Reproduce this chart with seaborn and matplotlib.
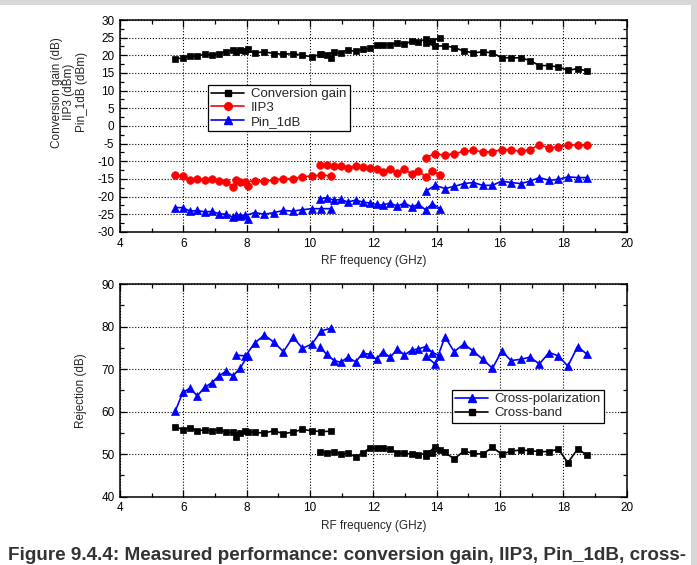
import matplotlib
matplotlib.use('Agg')
import matplotlib.pyplot as plt
from matplotlib.lines import Line2D
from matplotlib.patches import Rectangle
from matplotlib.ticker import MultipleLocator
import seaborn as sns
import pandas as pd

# four overlapping frequency sweeps (GHz)
freq_a = [5.75, 5.98, 6.21, 6.44, 6.67, 6.90, 7.12, 7.35, 7.57, 7.80, 8.03]
freq_b = [7.65, 7.96, 8.26, 8.56, 8.86, 9.16, 9.46, 9.76, 10.06, 10.36, 10.66]
freq_c = [10.30, 10.52, 10.76, 10.97, 11.19, 11.44, 11.66, 11.88, 12.10, 12.29,
          12.53, 12.76, 12.98, 13.21, 13.42, 13.65, 13.86, 14.11]
freq_d = [13.65, 13.95, 14.26, 14.55, 14.86, 15.16, 15.45, 15.76, 16.05, 16.35,
          16.65, 16.95, 17.24, 17.55, 17.84, 18.14, 18.45, 18.74]

# conversion gain (dB)
gain_a = [18.9, 19.3, 19.8, 19.8, 20.3, 20.1, 20.5, 21.0, 21.5, 21.5, 21.7]
gain_b = [21.0, 21.3, 20.7, 21.0, 20.5, 20.3, 20.5, 20.0, 19.6, 20.3, 19.3]
gain_c = [20.5, 20.2, 20.9, 20.7, 21.5, 21.1, 21.7, 22.0, 22.8, 23.0,
          23.0, 23.5, 23.2, 24.0, 23.8, 24.6, 24.0, 25.0]
gain_d = [23.5, 22.6, 22.7, 22.2, 21.2, 20.7, 21.0, 20.7, 19.3, 19.3,
          19.3, 18.5, 17.1, 17.1, 16.7, 15.8, 16.2, 15.6]

# IIP3 (dBm)
iip3_a = [-13.9, -14.1, -15.2, -15.0, -15.2, -15.0, -15.5, -15.9, -17.2, -15.9, -17.0]
iip3_b = [-15.3, -15.8, -15.5, -15.7, -15.2, -14.9, -14.9, -14.4, -14.1, -13.9, -14.1]
iip3_c = [-11.1, -11.1, -11.3, -11.3, -11.9, -11.3, -11.6, -11.9, -12.1, -13.0,
          -12.3, -13.2, -12.3, -13.5, -12.8, -14.3, -12.8, -13.8]
iip3_d = [-9.0, -7.8, -8.3, -7.8, -7.2, -6.9, -7.3, -7.3, -6.7, -6.7,
          -7.2, -6.7, -5.3, -6.2, -5.9, -5.3, -5.4, -5.4]

# Pin_1dB (dBm)
p1db_a = [-23.1, -23.1, -24.1, -23.9, -24.3, -24.2, -24.8, -25.0, -25.8, -25.6, -26.2]
p1db_b = [-25.3, -25.3, -24.5, -25.0, -24.5, -23.9, -24.1, -23.7, -23.4, -23.4, -23.4]
p1db_c = [-20.6, -20.3, -21.0, -20.8, -21.5, -21.0, -21.5, -21.8, -22.2, -22.4,
          -21.8, -22.7, -21.8, -22.9, -22.2, -23.7, -22.0, -23.4]
p1db_d = [-18.5, -16.8, -17.7, -17.1, -16.3, -16.0, -16.8, -16.8, -15.6, -16.0,
          -16.3, -15.6, -14.6, -15.4, -15.1, -14.4, -14.6, -14.6]

# cross-polarization rejection (dB)
xpol_a = [60.2, 64.5, 65.5, 63.7, 65.7, 66.8, 68.4, 69.5, 68.4, 70.3, 73.1]
xpol_b = [73.3, 73.1, 76.2, 78.0, 76.3, 74.1, 77.5, 74.9, 75.9, 79.0, 79.6]
xpol_c = [75.3, 73.5, 72.0, 71.6, 72.8, 71.7, 73.7, 73.5, 72.3, 74.1,
          72.8, 74.7, 73.3, 74.5, 74.7, 75.3, 73.9, 73.1]
xpol_d = [73.1, 71.2, 77.6, 74.1, 75.9, 74.2, 72.3, 70.2, 74.2, 72.0,
          72.3, 72.8, 71.2, 73.9, 73.1, 70.7, 75.3, 73.5]

# cross-band rejection (dB)
xband_a = [56.5, 55.7, 56.2, 55.5, 55.7, 55.5, 55.7, 55.2, 55.1, 54.9, 55.1]
xband_b = [54.1, 55.4, 55.1, 55.0, 55.5, 54.8, 55.2, 55.8, 55.5, 55.3, 55.4]
xband_c = [50.6, 50.3, 50.5, 50.0, 50.2, 49.4, 50.3, 51.4, 51.4, 51.4,
           51.2, 50.3, 50.2, 50.0, 49.8, 50.2, 50.2, 51.0]
xband_d = [49.6, 51.8, 50.4, 48.9, 50.7, 50.2, 50.0, 51.6, 50.0, 50.7,
           51.0, 50.8, 50.6, 50.6, 51.2, 48.0, 51.2, 49.8]

freqs = [freq_a, freq_b, freq_c, freq_d]

top_series = {
    'Conversion gain': [gain_a, gain_b, gain_c, gain_d],
    'IIP3': [iip3_a, iip3_b, iip3_c, iip3_d],
    'Pin_1dB': [p1db_a, p1db_b, p1db_c, p1db_d],
}
bottom_series = {
    'Cross-polarization': [xpol_a, xpol_b, xpol_c, xpol_d],
    'Cross-band': [xband_a, xband_b, xband_c, xband_d],
}

styles = {
    'Conversion gain': ('black', 's', 5.0),
    'IIP3': ('#ff0000', 'o', 5.5),
    'Pin_1dB': ('#0000ff', '^', 6.0),
    'Cross-polarization': ('#0000ff', '^', 6.0),
    'Cross-band': ('black', 's', 5.0),
}


def build_frame(series):
    rows = []
    for name, runs in series.items():
        for run, (f, v) in zip('ABCD', zip(freqs, runs)):
            for x, y in zip(f, v):
                rows.append({'series': name, 'run': run, 'freq': x, 'value': y})
    return pd.DataFrame(rows)


def draw_series(ax, df):
    for name in df.series.unique():
        col, mk, ms = styles[name]
        sub = df[df.series == name]
        sns.lineplot(data=sub, x='freq', y='value', units='run', estimator=None, sort=False,
                     color=col, marker=mk, markersize=ms, markeredgecolor=col,
                     markeredgewidth=0.5, linewidth=1.2, legend=False, ax=ax)


def style_axes(ax, ymin, ymax, ymajor):
    ax.set_xlim(4, 20)
    ax.set_ylim(ymin, ymax)
    ax.xaxis.set_major_locator(MultipleLocator(2))
    ax.xaxis.set_minor_locator(MultipleLocator(1))
    ax.yaxis.set_major_locator(MultipleLocator(ymajor))
    ax.yaxis.set_minor_locator(MultipleLocator(ymajor / 2))
    ax.tick_params(which='both', direction='in', top=True, right=True, labelsize=8.5, pad=4,
                   width=0.9, colors='black')
    ax.tick_params(which='major', length=5)
    ax.tick_params(which='minor', length=3)
    ax.grid(which='major', linestyle=':', color='black', linewidth=0.8)
    for s in ax.spines.values():
        s.set_linewidth(1.1)
        s.set_color('black')
    ax.set_xlabel('RF frequency (GHz)', fontsize=8.5, labelpad=4)


def make_handles(names):
    handles = []
    for name in names:
        col, mk, ms = styles[name]
        handles.append(Line2D([], [], color=col, marker=mk, markersize=ms, markeredgecolor=col,
                              linewidth=1.2, label=name))
    return handles


sns.set_style('ticks')
plt.rcParams['font.family'] = ['Liberation Sans', 'DejaVu Sans']
plt.rcParams['axes.unicode_minus'] = False

fig = plt.figure(figsize=(6.97, 5.65), dpi=100)
ax1 = fig.add_axes([0.1722, 0.5894, 0.727, 0.3752])
ax2 = fig.add_axes([0.1722, 0.1209, 0.727, 0.3764])

legend_kw = dict(fontsize=9.5, frameon=True, fancybox=False, edgecolor='black', framealpha=1,
                 handlelength=2.5, borderpad=0.25, labelspacing=0.12, handletextpad=0.5,
                 borderaxespad=0)

# top: gain / IIP3 / P1dB
draw_series(ax1, build_frame(top_series))
style_axes(ax1, -30, 30, 5)
ax1.set_ylabel('Conversion gain (dB)\nIIP3 (dBm)\nPin_1dB (dBm)', fontsize=8.5, linespacing=1.05)
ax1.yaxis.set_label_coords(-0.064, 0.66)
leg = ax1.legend(handles=make_handles(list(top_series)), loc='upper left',
                 bbox_to_anchor=(0.174, 0.695), **legend_kw)
leg.get_frame().set_linewidth(0.9)

# bottom: rejection
draw_series(ax2, build_frame(bottom_series))
style_axes(ax2, 40, 90, 10)
ax2.set_ylabel('Rejection (dB)', fontsize=8.5)
ax2.yaxis.set_label_coords(-0.066, 0.5)
leg = ax2.legend(handles=make_handles(list(bottom_series)), loc='upper left',
                 bbox_to_anchor=(0.655, 0.502), **legend_kw)
leg.get_frame().set_linewidth(0.9)

# caption (page text under the figure)
fig.text(0.012, 0.009, 'Figure 9.4.4: Measured performance: conversion gain, IIP3, Pin_1dB, cross-',
         fontsize=13.6, fontweight='bold', color='#333333', ha='left', va='baseline')

# grey page border (top and right)
fig.patches.append(Rectangle((0, 1 - 5 / 565), 1, 5 / 565, transform=fig.transFigure,
                             facecolor='#d8d8d8', edgecolor='none', zorder=-1))
fig.patches.append(Rectangle((691 / 697, 0), 6 / 697, 1, transform=fig.transFigure,
                             facecolor='#d8d8d8', edgecolor='none', zorder=-1))

fig.savefig('out.png', dpi=100)
